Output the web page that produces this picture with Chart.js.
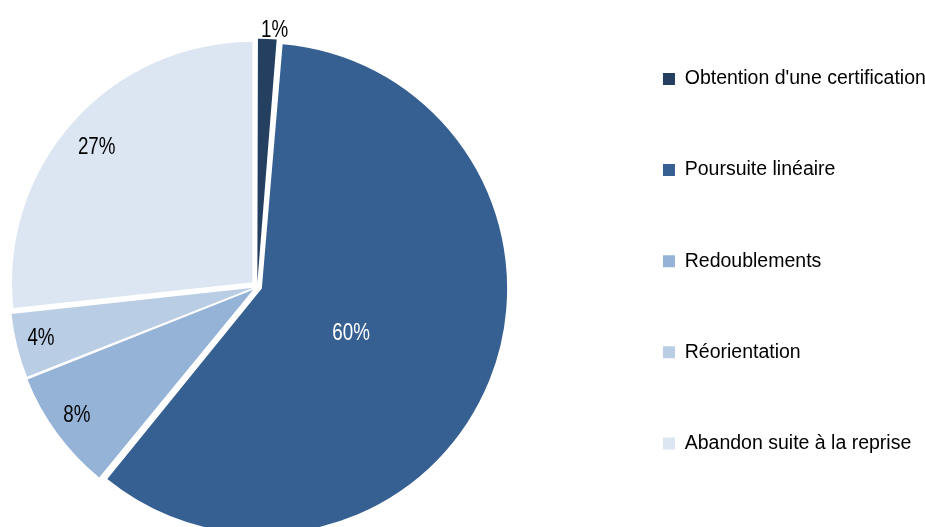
<!DOCTYPE html>
<html>
<head>
<meta charset="utf-8">
<script src="https://cdn.jsdelivr.net/npm/chart.js@4"></script>
<style>
  html, body { margin: 0; padding: 0; background: #fff; overflow: hidden; }
  /* canvas is a little wider than the page and pulled left, so the pie sits near the left edge */
  canvas { display: block; margin-left: -77px; }
</style>
</head>
<body>
<canvas id="pathwayChart" width="1002" height="527"></canvas>
<script>
// Data
const categories = [
  "Obtention d'une certification",
  'Poursuite linéaire',
  'Redoublements',
  'Réorientation',
  'Abandon suite à la reprise'
];
const shares = [1.3, 59.6, 8.1, 4.3, 26.7];
const shareLabels = ['1%', '60%', '8%', '4%', '27%'];

const sliceColors = ['#243F60', '#376092', '#95B3D7', '#B9CDE5', '#DCE6F2'];
const sliceOffsets = [16, 20, 20, 16, 26];
const labelColors = ['#000', '#fff', '#000', '#000', '#000'];
// where each percentage sits: fraction of the radius, and a small turn (degrees) off the slice middle
const labelRadius = [1.062, 0.412, 0.897, 0.907, 0.861];
const labelTurn = [1.5, 3.4, 1, 0.8, -0.7];

const FONT = '"Liberation Sans", Arial, sans-serif';
const LABEL_SIZE = 23.5;

// Draw the percentage next to / inside each slice (narrow lettering like the original)
const sliceLabels = {
  id: 'sliceLabels',
  afterDatasetsDraw(chart) {
    const ctx = chart.ctx;
    const meta = chart.getDatasetMeta(0);
    ctx.save();
    ctx.font = LABEL_SIZE + 'px ' + FONT;
    ctx.textAlign = 'center';
    ctx.textBaseline = 'alphabetic';
    meta.data.forEach((arc, i) => {
      const { x, y, startAngle, endAngle, outerRadius } =
        arc.getProps(['x', 'y', 'startAngle', 'endAngle', 'outerRadius'], true);
      const mid = (startAngle + endAngle) / 2 + labelTurn[i] * Math.PI / 180;
      const r = (arc.options.offset || 0) / 4 + labelRadius[i] * outerRadius;
      ctx.save();
      ctx.translate(x + Math.cos(mid) * r, y + Math.sin(mid) * r);
      ctx.scale(0.8, 1);
      ctx.fillStyle = labelColors[i];
      // centre the digits (not the em box) on the point
      ctx.fillText(shareLabels[i], 0, LABEL_SIZE * 0.36);
      ctx.restore();
    });
    ctx.restore();
  }
};

new Chart(document.getElementById('pathwayChart'), {
  type: 'pie',
  data: {
    labels: categories,
    datasets: [{
      data: shares,
      backgroundColor: sliceColors,
      borderWidth: 0,
      offset: sliceOffsets
    }]
  },
  plugins: [sliceLabels],
  options: {
    responsive: false,
    animation: false,
    radius: 240.3,
    clip: false,
    layout: { padding: { left: 0, right: -10.85, top: -2.35, bottom: 0 } },
    plugins: {
      // empty title only used as a spacer so the pie sits lower than the legend
      title: {
        display: true,
        text: '',
        fullSize: false,
        font: { size: 12, lineHeight: 1.2 },
        padding: { top: 34.35, bottom: 0 }
      },
      legend: {
        position: 'right',
        align: 'start',
        labels: {
          boxWidth: 12,
          boxHeight: 12,
          padding: 71.6,
          color: '#000',
          font: { family: FONT, size: 19.5 }
        }
      },
      tooltip: { enabled: false }
    }
  }
});
</script>
</body>
</html>
